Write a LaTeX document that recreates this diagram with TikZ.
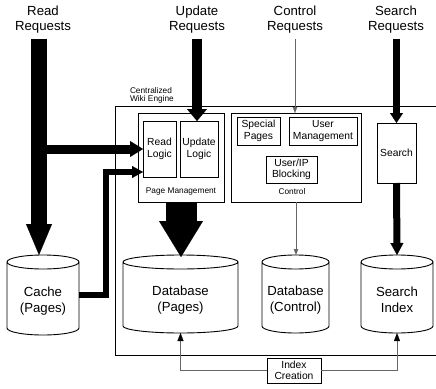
\documentclass[tikz,border=0pt]{standalone}
\usepackage{fontspec}
\setmainfont{Liberation Sans}
\usetikzlibrary{arrows.meta,calc}

% outline of a storage cylinder around a (borderless) node
\newcommand\cylshape[1]{%
  \draw[cylline] let \p1=(#1.north west), \p2=(#1.south east), \p3=(#1.north) in
    (\x1,\y1-7pt) -- (\x1,\y2+7pt)
    arc[start angle=180, end angle=360, x radius={(\x2-\x1)/2}, y radius=7pt]
    -- (\x2,\y1-7pt)
    (\x3,\y1-7pt) ellipse[x radius={(\x2-\x1)/2}, y radius=7pt];}

\tikzset{
  every node/.style={inner sep=0pt, outer sep=0pt},
  box/.style={draw=black, line width=0.8pt, anchor=north west, align=center,
    font=\fontsize{10.3}{11.5}\selectfont},
  frame/.style={draw=black, line width=0.8pt, anchor=north west},
  cylnode/.style={anchor=north west},
  cylline/.style={draw=black, line width=0.9pt},
  cyltext/.style={align=center, font=\fontsize{13.2}{15.5}\selectfont},
  reqlabel/.style={align=center, font=\fontsize{13.2}{15}\selectfont, inner ysep=5pt},
  small/.style={font=\fontsize{8.3}{8.4}\selectfont, align=center},
  thinarrow/.style={draw=black!60, line width=0.9pt,
    -{Triangle[width=4.5pt,length=6pt,line width=0.1pt]}},
  idxarrow/.style={draw=black!60, line width=0.9pt,
    -{Triangle[width=6pt,length=8pt,line width=0.1pt,fill=black,color=black]}},
  fat/.style args={#1/#2/#3}{draw=black, line width=#1,
    -{Triangle[width=#2,length=#3,line width=0.1pt]}},
}

\begin{document}
\begin{tikzpicture}[x=1pt,y=-1pt]
\useasboundingbox (0,0) rectangle (436,388);

% request labels
\node[reqlabel] (rr) at (43,20) {Read\\Requests};
\node[reqlabel] (ur) at (197,20) {Update\\Requests};
\node[reqlabel] (cr) at (295,20) {Control\\Requests};
\node[reqlabel] (sr) at (396,20) {Search\\Requests};

% wiki engine frame
\node[frame, minimum width=330pt, minimum height=249pt,
  label={[small, align=left, anchor=south west, xshift=15pt, yshift=2.5pt]north west:Centralized\\Wiki Engine}]
  (eng) at (115,106) {};

% page management
\node[frame, minimum width=86pt, minimum height=89pt,
  label={[small, anchor=south, yshift=7pt]south:Page Management}] (pm) at (138,113) {};
\node[box, minimum width=33pt, minimum height=56pt] (rl) at (143,121) {Read\\Logic};
\node[box, minimum width=38pt, minimum height=56pt] (ul) at (180,121) {Update\\Logic};

% control
\node[frame, minimum width=130pt, minimum height=89pt,
  label={[small, anchor=south, yshift=7pt, xshift=-4pt]south:Control}] (ctl) at (231,113) {};
\node[box, minimum width=43pt, minimum height=28pt] (sp) at (237,117) {Special\\Pages};
\node[box, minimum width=68pt, minimum height=28pt] (um) at (289,117) {User\\Management};
\node[box, minimum width=51pt, minimum height=27pt] (ub) at (266,156) {User/IP\\Blocking};

% search
\node[box, minimum width=39pt, minimum height=60pt] (sb) at (377,123) {Search};

% storage
\node[cylnode, minimum width=72pt, minimum height=80pt,
  label={[cyltext, yshift=-6pt]center:Cache\\(Pages)}] (cache) at (7,255) {};
\node[cylnode, minimum width=115pt, minimum height=78pt,
  label={[cyltext, yshift=-6pt]center:Database\\(Pages)}] (dbp) at (123,255) {};
\node[cylnode, minimum width=67pt, minimum height=78pt,
  label={[cyltext, yshift=-6pt]center:Database\\(Control)}] (dbc) at (262,255) {};
\node[cylnode, minimum width=72pt, minimum height=78pt,
  label={[cyltext, yshift=-6pt]center:Search\\Index}] (si) at (361,255) {};
\cylshape{cache}
\cylshape{dbp}
\cylshape{dbc}
\cylshape{si}

% index creation
\node[box, minimum width=54pt, minimum height=25pt] (ic) at (267,358) {Index\\Creation};

% read traffic
\coordinate (rd) at ([xshift=-4pt]rr.south);
\draw[fat={16pt/26pt/31pt}] (rd) -- (rd |- cache.north);
\draw[fat={9pt/16pt/13pt}] ([xshift=-8pt]rd |- rl.west) -- (rl.west);
\draw[fat={6pt/12pt/11pt}] (cache.east) -- ++(27,0) |- ([yshift=-23pt]rl.west);

% update traffic
\draw[fat={10pt/20pt/12pt}] (ur.south) -- (ur.south |- ul.north);
\draw[fat={31pt/44pt/36pt}] (pm.south) -- ([yshift=-2pt]pm.south |- dbp.north);

% control traffic
\draw[thinarrow] (cr.south) -- (cr.south |- ctl.north);
\draw[thinarrow] (ctl.south) -- (ctl.south |- dbc.north);

% search traffic
\draw[fat={7pt/13pt/10pt}] (sr.south -| sb.north) -- (sb.north);
\draw[fat={7pt/13pt/12pt}] (sb.south) -- (si.north);

% index building
\draw[idxarrow] (ic.west) -| (dbp.south);
\draw[idxarrow] (ic.east) -| (si.south);
\end{tikzpicture}
\end{document}
